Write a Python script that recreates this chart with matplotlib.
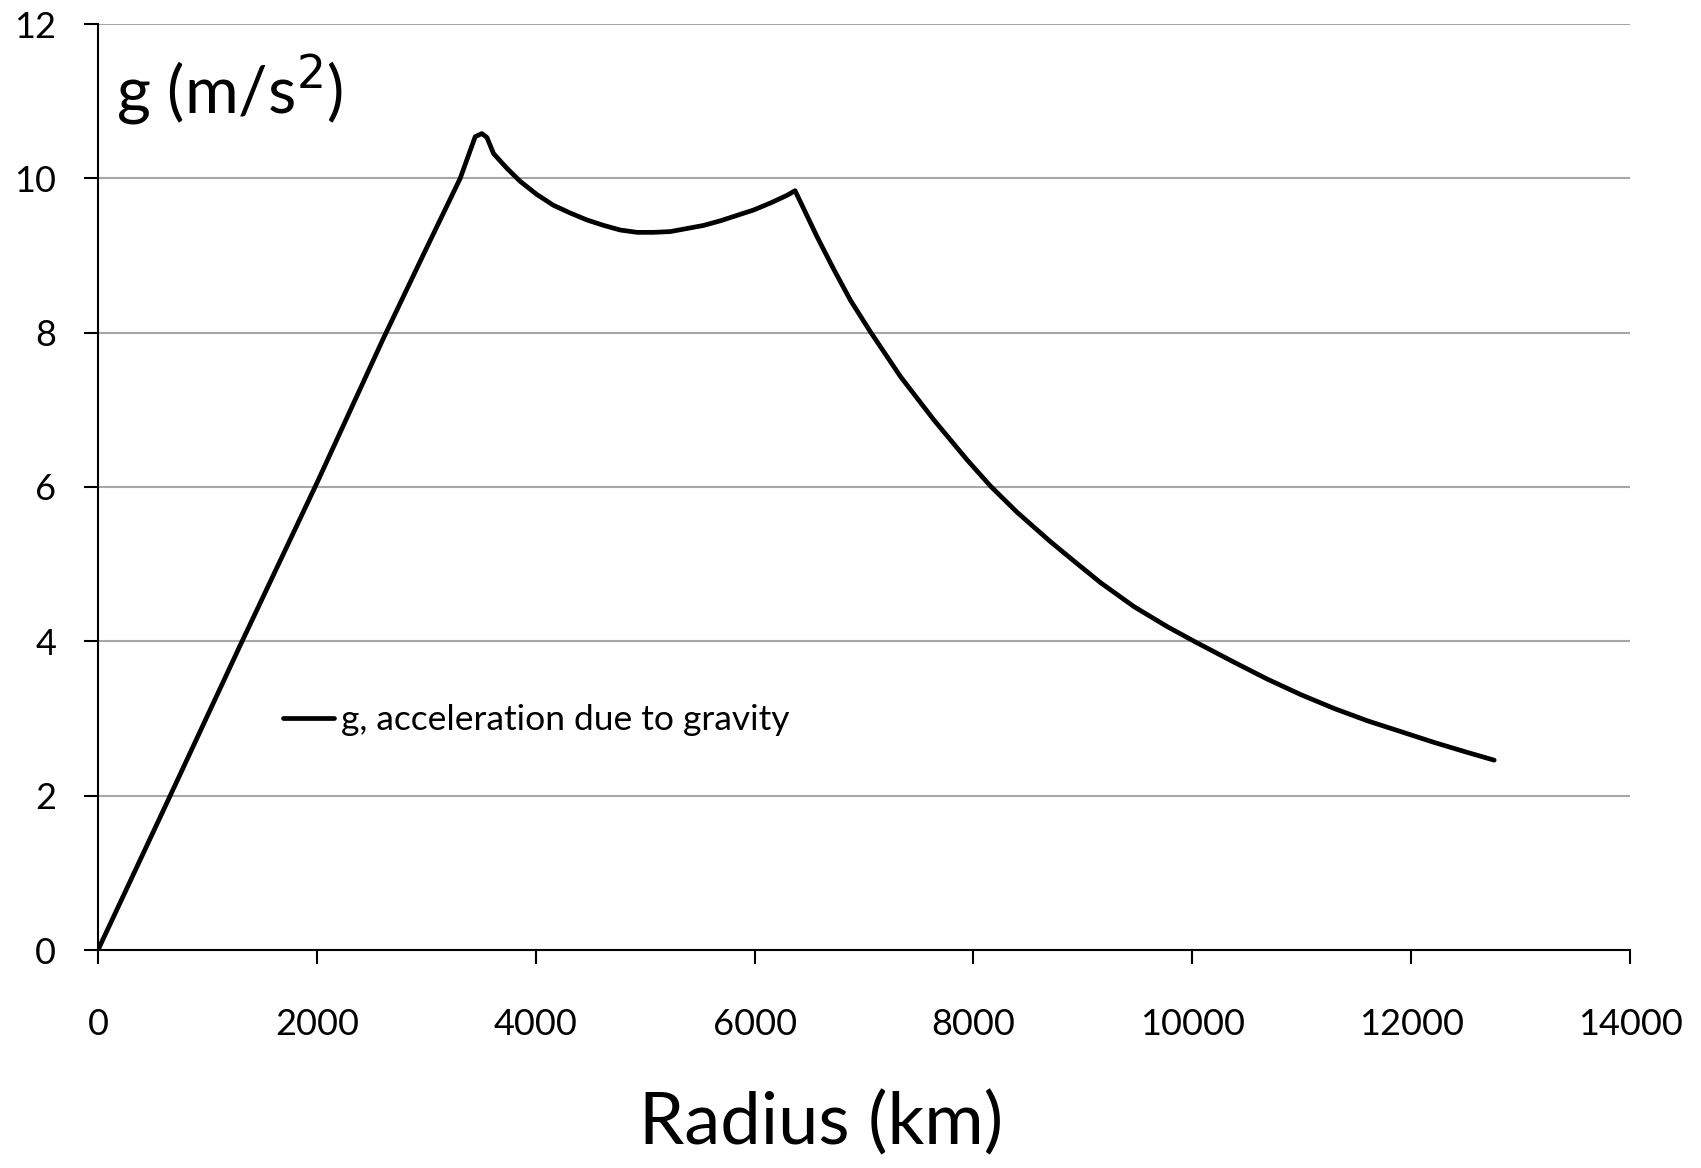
import matplotlib
matplotlib.use("Agg")
import matplotlib.pyplot as plt

radius_km = [0, 650, 1300, 2000, 2606, 2990, 3310, 3447, 3508, 3554, 3615, 3737,
             3859, 4011, 4163, 4316, 4469, 4621, 4773, 4926, 5078, 5230, 5383,
             5535, 5688, 5840, 5992, 6145, 6297, 6370, 6572, 6724, 6876, 7059,
             7334, 7638, 7943, 8157, 8401, 8705, 8919, 9162, 9467, 9772, 10031,
             10381, 10686, 10991, 11296, 11601, 11906, 12210, 12515, 12759]
g_ms2 = [0.0, 1.97, 3.95, 6.05, 7.92, 9.06, 10.0, 10.54, 10.58, 10.53, 10.32, 10.13,
         9.96, 9.79, 9.65, 9.55, 9.46, 9.39, 9.33, 9.30, 9.30, 9.31, 9.35,
         9.39, 9.45, 9.52, 9.59, 9.68, 9.78, 9.84, 9.24, 8.82, 8.42, 8.01,
         7.43, 6.87, 6.35, 6.01, 5.67, 5.29, 5.04, 4.76, 4.45, 4.19, 3.99,
         3.73, 3.51, 3.31, 3.13, 2.97, 2.83, 2.69, 2.56, 2.46]
x_ticks = [0, 2000, 4000, 6000, 8000, 10000, 12000, 14000]
y_ticks = [0, 2, 4, 6, 8, 10, 12]
series_label = "g, acceleration due to gravity"

plt.rcParams['font.family'] = ['Lato', 'DejaVu Sans']

fig = plt.figure(figsize=(17.01, 11.68), dpi=100)
ax = fig.add_axes([98/1701, 1 - 950/1168, (1630-98)/1701, (950-24)/1168])

ax.plot(radius_km, g_ms2, color='black', lw=3.4, solid_joinstyle='round',
        solid_capstyle='round', label=series_label, zorder=3)

ax.set_xlim(0, 14000)
ax.set_ylim(0, 12)
ax.set_xticks(x_ticks)
ax.set_yticks(y_ticks)
ax.yaxis.grid(True, color='#a6a6a6', lw=1.5)
ax.set_axisbelow(True)
for s in ['top', 'right']:
    ax.spines[s].set_visible(False)
for s in ['left', 'bottom']:
    ax.spines[s].set_color('black')
    ax.spines[s].set_linewidth(1.5)
ax.tick_params(axis='both', direction='out', length=10, width=1.5, labelsize=26,
               colors='black')
ax.tick_params(axis='y', pad=20)
ax.tick_params(axis='x', pad=32)

ax.text(0.012, 0.929, r"g (m/s$^{2}$)", transform=ax.transAxes, fontsize=47,
        ha='left', va='center')
fig.text(821/1701, 1 - 1123/1168, "Radius (km)", fontsize=52, ha='center', va='center')

ax.legend(loc='center left', bbox_to_anchor=(185/1532, (950-720)/926), frameon=False,
          fontsize=25.5, handlelength=1.45, handletextpad=0.18, borderaxespad=0,
          borderpad=0)

fig.savefig("out.png", dpi=100)
